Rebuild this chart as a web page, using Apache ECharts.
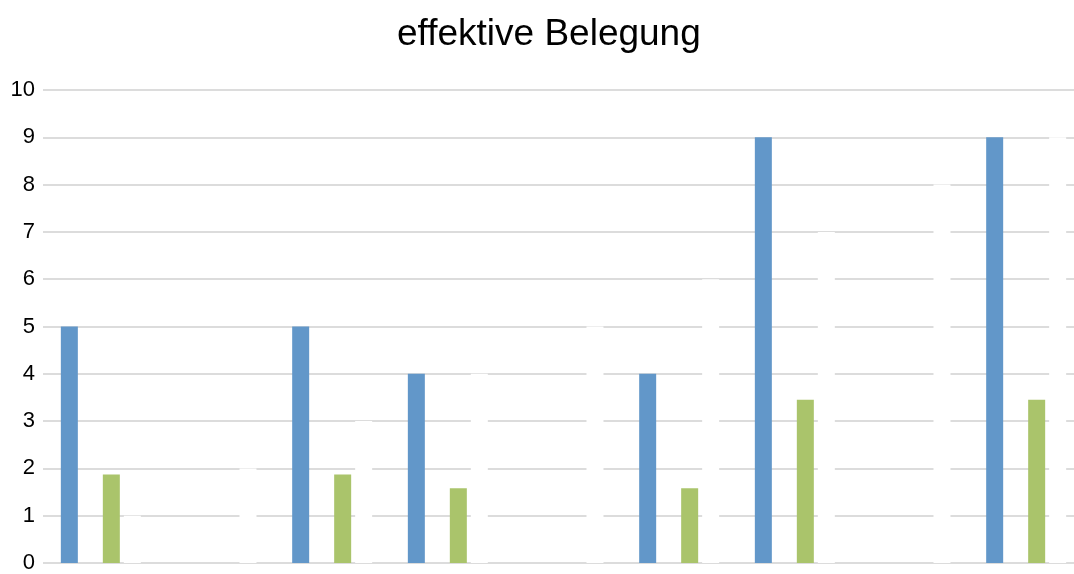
<!DOCTYPE html>
<html>
<head>
<meta charset="utf-8">
<script src="https://cdn.jsdelivr.net/npm/echarts@6/dist/echarts.min.js"></script>
<style>
  html, body { margin: 0; padding: 0; background: #ffffff; overflow: hidden; }
  /* the drawing surface is a little wider than the window; the plot runs off the right edge */
  #chart { width: 1090px; height: 574px; }
</style>
</head>
<body>
<div id="chart"></div>
<script>
// Nine groups, unlabeled on the category axis
const categories = ['', '', '', '', '', '', '', '', ''];
const yTicks = [0, 1, 2, 3, 4, 5, 6, 7, 8, 9, 10];

// Series values
const belegungMax = [5, null, 5, 4, null, 4, 9, null, 9];
const belegungLeer = [null, null, null, null, null, null, null, null, null];
const belegungEffektiv = [1.87, null, 1.87, 1.58, null, 1.58, 3.45, null, 3.45];
const platzhalter = [1, 2, 3, 4, 5, 6, 7, 8, 9];

const FONT = '"Liberation Sans", Arial, sans-serif';

const chart = echarts.init(document.getElementById('chart'), null, { renderer: 'canvas' });

const barBase = {
  type: 'bar',
  barWidth: 17,
  barGap: '23.5%',
  animation: false,
  emphasis: { disabled: true }
};

chart.setOption({
  backgroundColor: '#ffffff',
  animation: false,
  title: {
    text: 'effektive Belegung',
    left: 392,
    top: 11,
    textStyle: { fontFamily: FONT, fontSize: 37, fontWeight: 'normal', color: '#000000' }
  },
  grid: { left: 43, width: 1041, top: 90, height: 475.5, containLabel: false },
  xAxis: {
    type: 'category',
    data: categories,
    axisLine: { show: false },
    axisTick: { show: false },
    axisLabel: { show: false },
    splitLine: { show: false }
  },
  yAxis: {
    type: 'value',
    min: yTicks[0],
    max: yTicks[yTicks.length - 1],
    interval: 1,
    axisLine: { show: false },
    axisTick: { show: false },
    axisLabel: { fontFamily: FONT, fontSize: 22, color: '#000000', margin: 8 },
    splitLine: { show: true, lineStyle: { color: '#dcdcdc', width: 2 } }
  },
  series: [
    Object.assign({}, barBase, { name: 'max', data: belegungMax, itemStyle: { color: '#6297c9' } }),
    Object.assign({}, barBase, { name: 'leer', data: belegungLeer, itemStyle: { color: '#c0504d' } }),
    Object.assign({}, barBase, { name: 'effektiv', data: belegungEffektiv, itemStyle: { color: '#aac46b' } }),
    Object.assign({}, barBase, { name: 'platzhalter', data: platzhalter, itemStyle: { color: '#ffffff' } })
  ]
});
</script>
</body>
</html>
